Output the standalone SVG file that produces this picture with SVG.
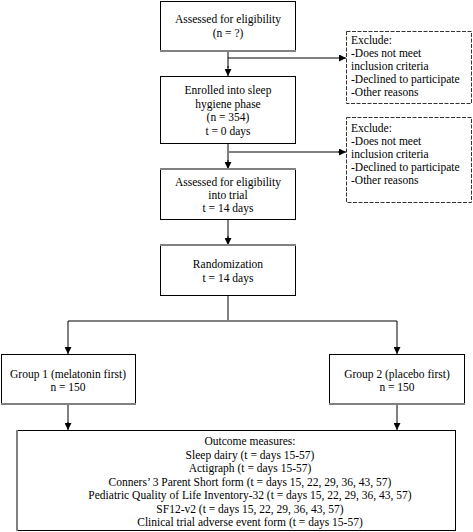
<svg xmlns="http://www.w3.org/2000/svg" width="473" height="532" viewBox="0 0 473 532">
<defs>
<style>
text{font-family:'Liberation Serif','Times New Roman',serif;font-size:11.5px;fill:#000}
.c{text-anchor:middle}
.box{fill:#fff;stroke:#000;stroke-width:1}
.dash{fill:#fff;stroke:#333;stroke-width:1;stroke-dasharray:4,1.5}
.g{stroke:#808080;stroke-width:2;fill:none}
.k{stroke:#000;stroke-width:1;fill:none}
</style>
<marker id="ah" viewBox="0 0 8 8" refX="8" refY="4" markerWidth="7" markerHeight="7" markerUnits="userSpaceOnUse" orient="auto">
<path d="M0,0L8,4L0,8z" fill="#000"/>
</marker>
</defs>
<rect width="473" height="532" fill="#fff"/>
<g id="connectors">
<path class="g" d="M228,52V68"/><path class="k" d="M228,66V76" marker-end="url(#ah)"/>
<path class="k" d="M228,58H346" marker-end="url(#ah)"/>
<path class="g" d="M228,144V162"/><path class="k" d="M228,160V169" marker-end="url(#ah)"/>
<path class="g" d="M228,152H340"/><path class="k" d="M338,152H346" marker-end="url(#ah)"/>
<path class="g" d="M228,220V238"/><path class="k" d="M228,236V245" marker-end="url(#ah)"/>
<path class="g" d="M228,296V321H397"/><path class="g" d="M228,321H68"/>
<path class="k" d="M68,321V354" marker-end="url(#ah)"/>
<path class="k" d="M397,321V354" marker-end="url(#ah)"/>
<path class="g" d="M68,405V424"/><path class="k" d="M68,422V430" marker-end="url(#ah)"/>
<path class="k" d="M397,405V430" marker-end="url(#ah)"/>
</g>
<g font-family="Liberation Serif, Times New Roman, serif" font-size="11.5">
<g id="n1">
<rect class="box" x="160.5" y="1.5" width="135" height="50"/>
<path class="g" d="M160,51H296"/>
<text class="c" x="228" y="23">Assessed for eligibility</text>
<text class="c" x="228" y="37">(n = ?)</text>
</g>
<g id="n2">
<rect class="box" x="160.5" y="76.5" width="135" height="67"/>
<text class="c" x="228" y="94">Enrolled into sleep</text>
<text class="c" x="228" y="107.5">hygiene phase</text>
<text class="c" x="228" y="121">(n = 354)</text>
<text class="c" x="228" y="134.5">t = 0 days</text>
</g>
<g id="n3">
<rect class="box" x="160.5" y="169.5" width="135" height="50"/>
<path class="g" d="M160,169H296"/>
<text class="c" x="228" y="186">Assessed for eligibility</text>
<text class="c" x="228" y="199">into trial</text>
<text class="c" x="228" y="212">t = 14 days</text>
</g>
<g id="n4">
<rect class="box" x="160.5" y="245.5" width="135" height="50"/>
<path class="g" d="M160,245H296"/>
<text class="c" x="228" y="268">Randomization</text>
<text class="c" x="228" y="282">t = 14 days</text>
</g>
<g id="ex1">
<rect class="dash" x="346.5" y="31.5" width="125" height="72"/>
<text x="351" y="44">Exclude:</text>
<text x="351" y="57">-Does not meet</text>
<text x="351" y="70">inclusion criteria</text>
<text x="351" y="83">-Declined to participate</text>
<text x="351" y="96">-Other reasons</text>
</g>
<g id="ex2">
<rect class="dash" x="346.5" y="117.5" width="125" height="85"/>
<text x="351" y="132">Exclude:</text>
<text x="351" y="145">-Does not meet</text>
<text x="351" y="158">inclusion criteria</text>
<text x="351" y="171">-Declined to participate</text>
<text x="351" y="184">-Other reasons</text>
</g>
<g id="g1">
<rect class="box" x="1.5" y="354.5" width="134" height="50"/>
<path class="g" d="M1,404H136"/>
<text class="c" x="68" y="378">Group 1 (melatonin first)</text>
<text class="c" x="68" y="391">n = 150</text>
</g>
<g id="g2">
<rect class="box" x="329.5" y="354.5" width="135" height="50"/>
<path class="g" d="M329,404H465"/>
<text class="c" x="397" y="378">Group 2 (placebo first)</text>
<text class="c" x="397" y="391">n = 150</text>
</g>
<g id="outcome">
<rect class="box" x="17.5" y="430.5" width="438" height="100"/>
<path class="g" d="M17,430V531"/>
<text class="c" x="250" y="445">Outcome measures:</text>
<text class="c" x="250" y="458.5">Sleep dairy (t = days 15-57)</text>
<text class="c" x="250" y="472">Actigraph (t = days 15-57)</text>
<text class="c" x="250" y="485.5">Conners’ 3 Parent Short form (t = days 15, 22, 29, 36, 43, 57)</text>
<text class="c" x="250" y="499">Pediatric Quality of Life Inventory-32 (t = days 15, 22, 29, 36, 43, 57)</text>
<text class="c" x="250" y="512.5">SF12-v2 (t = days 15, 22, 29, 36, 43, 57)</text>
<text class="c" x="250" y="526">Clinical trial adverse event form (t = days 15-57)</text>
</g>
</g>
</svg>
